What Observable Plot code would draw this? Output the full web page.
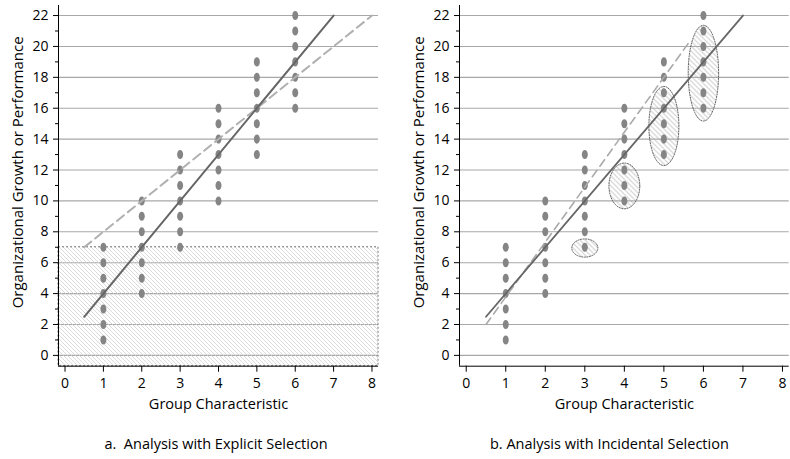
<!DOCTYPE html>
<html>
<head>
<meta charset="utf-8">
<script src="https://cdn.jsdelivr.net/npm/d3@7"></script>
<script src="https://cdn.jsdelivr.net/npm/@observablehq/plot@0.6"></script>
<style>
  body { margin: 0; background: #fff; }
  #wrap { position: relative; width: 790px; height: 459px; overflow: hidden; }
  #left, #right { position: absolute; top: 0; }
  #left { left: 0; }
  #right { left: 395px; }
  svg { font-family: "Open Sans", sans-serif; }
</style>
</head>
<body>
<div id="wrap"><div id="left"></div><div id="right"></div></div>
<script>
// ---- data ----
const groups = [1, 2, 3, 4, 5, 6];
const performance1 = [1, 2, 3, 4, 5, 6, 7];
const performance2 = [4, 5, 6, 7, 8, 9, 10];
const performance3 = [7, 8, 9, 10, 11, 12, 13];
const performance4 = [10, 11, 12, 13, 14, 15, 16];
const performance5 = [13, 14, 15, 16, 17, 18, 19];
const performance6 = [16, 17, 18, 19, 20, 21, 22];
const performanceByGroup = [performance1, performance2, performance3, performance4, performance5, performance6];

// regression lines (endpoints)
const trueLineX = [0.5, 7];
const trueLineY = [2.5, 22];
const explicitLineX = [0.5, 8];
const explicitLineY = [7, 22];
const incidentalLineX = [0.5, 5.66];
const incidentalLineY = [2, 20.35];

// explicit selection cutoff
const selectionCutoff = 7;

// incidental selection ellipses
const ellipseX = [3, 4, 5, 6];
const ellipseY = [6.95, 10.97, 14.85, 18.27];
const ellipseRx = [0.33, 0.39, 0.38, 0.385];
const ellipseRy = [0.59, 1.48, 2.56, 3.1];

// ticks / labels
const xTicks = [0, 1, 2, 3, 4, 5, 6, 7, 8];
const yMajorTicks = [0, 2, 4, 6, 8, 10, 12, 14, 16, 18, 20, 22];
const yMinorTicks = [1, 3, 5, 7, 9, 11, 13, 15, 17, 19, 21];
const xLabel = "Group Characteristic";
const yLabel = "Organizational Growth or Performance";
const captionA = "a.  Analysis with Explicit Selection";
const captionB = "b. Analysis with Incidental Selection";

// ---- build tables ----
const points = [];
groups.forEach((g, i) => performanceByGroup[i].forEach(v => points.push({x: g, y: v})));
const toLine = (xs, ys) => xs.map((x, i) => ({x, y: ys[i]}));

const ellipsePts = [];
ellipseX.forEach((cx, i) => {
  const n = 72;
  for (let k = 0; k < n; k++) {
    const a = (k / n) * 2 * Math.PI;
    ellipsePts.push({id: i, x: cx + ellipseRx[i] * Math.cos(a), y: ellipseY[i] + ellipseRy[i] * Math.sin(a)});
  }
});

// oval dot symbol
const oval = {
  draw(context, size) {
    const r = Math.sqrt(size / Math.PI);
    const rx = r * 0.86, ry = r * 1.29, k = 0.5523;
    context.moveTo(0, -ry);
    context.bezierCurveTo(k * rx, -ry, rx, -k * ry, rx, 0);
    context.bezierCurveTo(rx, k * ry, k * rx, ry, 0, ry);
    context.bezierCurveTo(-k * rx, ry, -rx, k * ry, -rx, 0);
    context.bezierCurveTo(-rx, -k * ry, -k * rx, -ry, 0, -ry);
    context.closePath();
  }
};

const xDomain = [-0.17, 8.17];
const yDomain = [-0.7, 22.65];
const FONT = "Open Sans, sans-serif";

function panel({marginLeft, marginRight, extra, caption, captionDx}) {
  const width = 395, height = 459;
  const marginTop = 5, marginBottom = 459 - 365.7;
  return Plot.plot({
    width, height, marginLeft, marginRight, marginTop, marginBottom,
    style: {fontFamily: FONT, fontSize: "14px", color: "#000", background: "#fff"},
    x: {domain: xDomain, axis: null},
    y: {domain: yDomain, axis: null},
    marks: [
      ...extra.under,
      Plot.ruleY(yMajorTicks, {stroke: "#a8a8a8", strokeWidth: 1.1}),
      ...extra.over,
      Plot.dot(points, {x: "x", y: "y", r: 3.5, symbol: oval, fill: "#858585", stroke: "none"}),
      ...extra.lines,
      Plot.ruleX([xDomain[0]], {stroke: "#000", strokeWidth: 1}),
      Plot.ruleY([yDomain[0]], {stroke: "#000", strokeWidth: 1}),
      Plot.axisY({ticks: yMinorTicks, tickSize: 3, tickFormat: () => "", label: null, stroke: "#000"}),
      Plot.axisY({ticks: yMajorTicks, tickSize: 5, tickPadding: 5, label: null, fontSize: 14, stroke: "#000", fill: "#000"}),
      Plot.axisX({ticks: xTicks, tickSize: 6, tickPadding: 6, label: null, fontSize: 14, stroke: "#000", fill: "#000"}),
      Plot.text([yLabel], {frameAnchor: "left", rotate: -90, dx: -40, dy: -13.5, fontSize: 15, fill: "#000", textAnchor: "middle"}),
      Plot.text([xLabel], {frameAnchor: "bottom", dy: 42.5, fontSize: 14.5, fill: "#000"}),
      Plot.text([caption], {frameAnchor: "bottom", dy: 82.5, dx: captionDx, fontSize: 14.5, fill: "#000"})
    ]
  });
}

function addPattern(svg, id, size, color, w) {
  const defs = d3.select(svg).insert("defs", ":first-child");
  const p = defs.append("pattern").attr("id", id).attr("patternUnits", "userSpaceOnUse")
    .attr("width", size).attr("height", size);
  p.append("path")
    .attr("d", `M0,0L${size},${size}M${-size / 2},${size / 2}L${size / 2},${size * 1.5}M${size / 2},${-size / 2}L${size * 1.5},${size / 2}`)
    .attr("stroke", color).attr("stroke-width", w).attr("fill", "none");
}

// Left panel
const left = panel({
  marginLeft: 58, marginRight: 17,
  caption: captionA, captionDx: -2.5,
  extra: {
    under: [],
    over: [
      Plot.rect([0], {x1: xDomain[0], x2: xDomain[1], y1: yDomain[0], y2: selectionCutoff,
        fill: "url(#hatchA)", stroke: "#666", strokeWidth: 0.9, strokeDasharray: "2,2"})
    ],
    lines: [
      Plot.line(toLine(explicitLineX, explicitLineY), {x: "x", y: "y", stroke: "#b0b0b0", strokeWidth: 2, strokeDasharray: "9,5"}),
      Plot.line(toLine(trueLineX, trueLineY), {x: "x", y: "y", stroke: "#666", strokeWidth: 2})
    ]
  }
});
addPattern(left, "hatchA", 4, "#cfcfcf", 0.75);
document.getElementById("left").appendChild(left);

// Right panel
const right = panel({
  marginLeft: 64, marginRight: 1.3,
  caption: captionB, captionDx: -15,
  extra: {
    under: [],
    over: [
      Plot.line(ellipsePts, {x: "x", y: "y", z: "id", curve: "linear-closed",
        fill: "url(#hatchB)", stroke: "#555", strokeWidth: 0.9, strokeDasharray: "1.2,1.4"})
    ],
    lines: [
      Plot.line(toLine(incidentalLineX, incidentalLineY), {x: "x", y: "y", stroke: "#aaa", strokeWidth: 1.6, strokeDasharray: "8,5"}),
      Plot.line(toLine(trueLineX, trueLineY), {x: "x", y: "y", stroke: "#666", strokeWidth: 1.8})
    ]
  }
});
addPattern(right, "hatchB", 5, "#b0b0b0", 0.9);
document.getElementById("right").appendChild(right);
</script>
</body>
</html>
